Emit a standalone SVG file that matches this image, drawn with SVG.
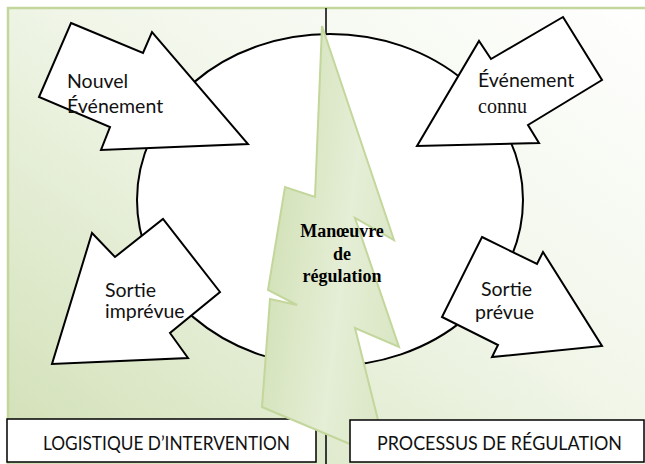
<svg xmlns="http://www.w3.org/2000/svg" width="645" height="464" viewBox="0 0 645 464">
<defs>
<linearGradient id="bg" x1="1" y1="0" x2="0" y2="1">
<stop offset="0" stop-color="#ffffff"/>
<stop offset="0.45" stop-color="#f1f6e9"/>
<stop offset="1" stop-color="#d0dfb4"/>
</linearGradient>
<linearGradient id="bolt" x1="0" y1="0.3" x2="1" y2="0.7">
<stop offset="0" stop-color="#cfdfb2"/>
<stop offset="0.6" stop-color="#e5eed6"/>
<stop offset="1" stop-color="#d9e6c3"/>
</linearGradient>
<style>
.arrow{fill:#ffffff;stroke:#000000;stroke-width:2;stroke-linejoin:miter}
.lbl{font-family:Lato,"Noto Sans",sans-serif;font-size:19.5px;fill:#111111}
.ser{font-family:"Liberation Serif","Times New Roman",serif;font-size:20px;fill:#111111}
.box{fill:#ffffff;stroke:#000000;stroke-width:1.5}
.boxlbl{font-family:Lato,"Noto Sans",sans-serif;font-size:19.5px;fill:#111111}
.bolttxt{font-family:"Liberation Serif","Times New Roman",serif;font-size:18px;font-weight:bold;fill:#000000;text-anchor:middle}
</style>
</defs>
<rect x="8" y="8" width="650" height="470" fill="url(#bg)" stroke="#c3d69b" stroke-width="2.5"/>
<g id="connectors">
<line x1="326" y1="8" x2="326" y2="464" stroke="#000000" stroke-width="1.5"/>
</g>
<g id="cycle">
<ellipse cx="330" cy="200" rx="193" ry="166" fill="#ffffff" stroke="#000000" stroke-width="2"/>
</g>
<g id="nouvel-evenement">
<polygon class="arrow" points="71,23 143,53 152,32 248,144 101,150 110,127 39,97"/>
<text class="lbl" x="67" y="88">Nouvel</text>
<text class="lbl" x="67" y="113">Événement</text>
</g>
<g id="evenement-connu">
<polygon class="arrow" points="563,17 602,80 528,125 539,143 417,146 479,41 491,59"/>
<text class="lbl" x="478" y="87">Événement</text>
<text class="ser" x="478" y="113">connu</text>
</g>
<g id="sortie-imprevue">
<polygon class="arrow" points="92,233 115,257 163,219 220,292 170,333 188,358 52,364"/>
<text class="lbl" x="105" y="297">Sortie</text>
<text class="lbl" x="105" y="318">imprévue</text>
</g>
<g id="sortie-prevue">
<polygon class="arrow" points="482,237 537,264 543,252 602,346 492,357 498,345 442,317"/>
<text class="lbl" x="481" y="296">Sortie</text>
<text class="lbl" x="475" y="319">prévue</text>
</g>
<g id="logistique">
<rect class="box" x="7" y="419" width="309" height="43"/>
<text class="boxlbl" x="43" y="450" textLength="247" lengthAdjust="spacingAndGlyphs">LOGISTIQUE D’INTERVENTION</text>
</g>
<g id="manoeuvre">
<polygon points="322,26 394,240 355,218 399,347 355,328 388,460 262,407 270,299 297,305 268,290 285,187 315,197" fill="url(#bolt)" stroke="#c3d69b" stroke-width="2" stroke-linejoin="miter"/>
<text class="bolttxt" x="342" y="237">Manœuvre</text>
<text class="bolttxt" x="342" y="260">de</text>
<text class="bolttxt" x="342" y="282">régulation</text>
</g>
<g id="processus">
<rect class="box" x="350" y="420" width="294" height="42"/>
<text class="boxlbl" x="377" y="450" textLength="245" lengthAdjust="spacingAndGlyphs">PROCESSUS DE RÉGULATION</text>
</g>
</svg>
